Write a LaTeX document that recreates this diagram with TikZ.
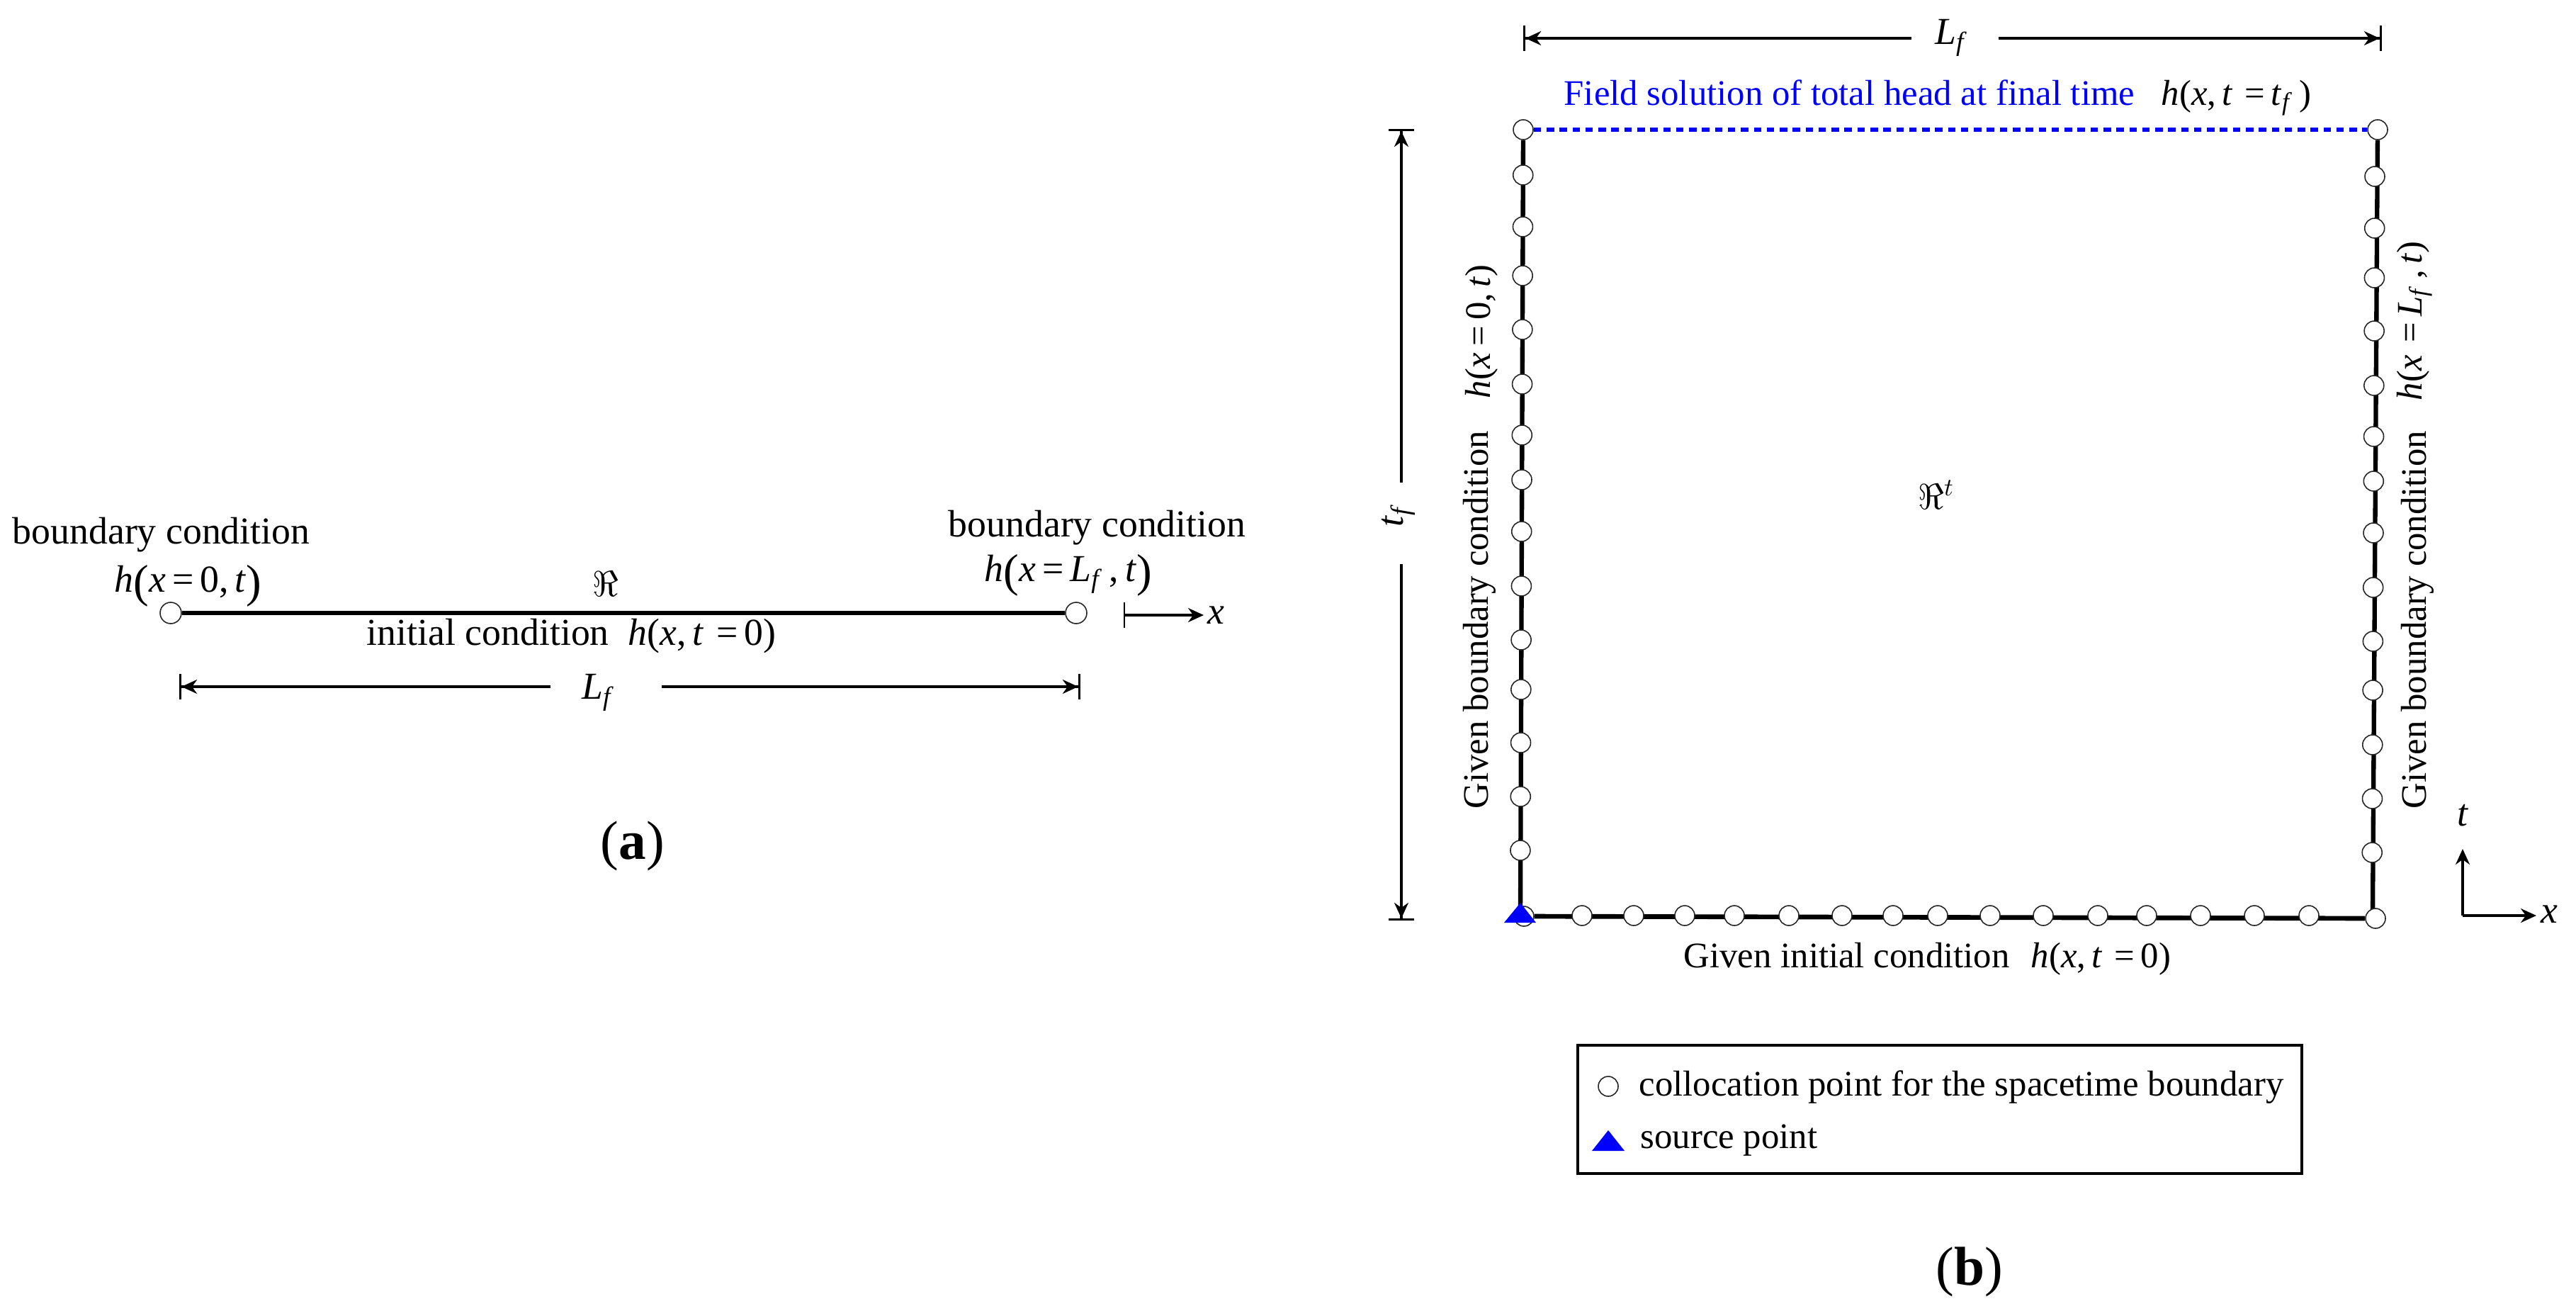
\documentclass[tikz,border=0pt]{standalone}
\usepackage{fontspec}
\setmainfont{Liberation Serif}
\usetikzlibrary{arrows.meta, positioning}
\newcommand{\vi}[1]{\textit{#1}}
\newcommand{\subf}{\textsubscript{\textit{f}}}
\newcommand{\tp}[1]{\raisebox{-.14em}{\fontsize{18.5}{19}\selectfont #1}}

\begin{document}
\begin{tikzpicture}[
    y=-1cm,
    colpt/.style={circle, draw=black!85, fill=white, line width=0.45pt, inner sep=0pt, minimum size=0.28cm},
    endpt/.style={colpt, minimum size=0.3cm},
    wall/.style={line width=1.8pt},
    arrow/.style={-{Stealth[length=2.2mm, width=2mm]}, line width=0.9pt},
    dimend/.style={-{Stealth[length=2.2mm, width=2mm] Bar[width=3.6mm, line width=0.9pt]}, line width=0.9pt},
    dimgap/.style={inner sep=0pt, text height=0.34cm, text depth=0pt},
    texta/.style={inner sep=0pt, font=\fontsize{15.3}{18}\selectfont},
    textb/.style={inner sep=0pt, font=\fontsize{14.45}{17}\selectfont},
    tag/.style={inner sep=0pt, font=\fontsize{22}{26}\selectfont}
]
    \useasboundingbox (0,0) rectangle (36.36,18.50);

    % Panel (a)
    \node[endpt] (aleft) at (2.41,8.65) {};
    \node[endpt] (aright) at (15.19,8.65) {};
    \draw[line width=1.8pt] (aleft) -- (aright);
    \node[texta, anchor=base west] (bcleft) at (0.17,7.67) {boundary condition};
    \node[texta, anchor=base west] (hleft) at (1.61,8.35) {\vi{h}\tp{(}\vi{x}\,=\,0,\,\vi{t}\tp{)}};
    \node[texta, anchor=base west] (bcright) at (13.38,7.57) {boundary condition};
    \node[texta, anchor=base west] (hright) at (13.89,8.20) {\vi{h}\tp{(}\vi{x}\,=\,\vi{L}\subf\,,\,\vi{t}\tp{)}};
    \node[texta, anchor=base] (rega) at (8.55,8.41) {$\Re$};
    \node[texta, anchor=base west] (ica) at (5.17,9.10) {initial condition};
    \node[texta, anchor=base west] (hica) at (8.86,9.10) {\vi{h}(\vi{x},\,\vi{t}\,\,=\,0)};

    % Length of the line
    \node[dimgap, texta, minimum width=1.55cm] (lfa) at (8.555,9.69) {\hspace*{-.22cm}\vi{L}\subf};
    \coordinate (lfaleft) at (2.53,9.69);
    \coordinate (lfaright) at (15.25,9.69);
    \draw[dimend] (lfa) -- (lfaleft);
    \draw[dimend] (lfa) -- (lfaright);

    % Axis of panel (a)
    \coordinate (axao) at (15.86,8.68);
    \node[texta, anchor=base west] (axax) at (17.04,8.80) {\vi{x}};
    \coordinate (axatip) at (16.99,8.68);
    \draw[arrow, {Bar[width=3.6mm, line width=0.7pt]}-{Stealth[length=2.2mm, width=2mm]}] (axao) -- (axatip);
    \node[tag, anchor=base] (taga) at (8.93,12.12) {(\textbf{a})};

    % Panel (b): the spacetime square
    \node[colpt] (TL) at (21.50,1.83) {};
    \node[colpt] (TR) at (33.56,1.83) {};
    \coordinate (wallLb) at (21.46,12.92);
    \coordinate (wallRb) at (33.49,12.92);
    \draw[wall] (TL) -- (wallLb);
    \draw[wall] (TR) -- (wallRb);
    \node[colpt] (BL) at (21.51,12.93) {};
    \node[colpt] (BR) at (33.53,12.96) {};
    \draw[wall, line width=1.9pt] (BL) -- (BR);
    \draw[blue, line width=1.6pt, dash pattern=on 3pt off 2.2pt] (TL) -- (TR);

    % Collocation points
    \foreach \y [count=\i, evaluate=\y as \x using 21.50-(\y-1.83)*0.004] in {2.47,3.20,3.89,4.65,5.42,6.14,6.77,7.50,8.27,9.03,9.73,10.48,11.24,12.00}
        \node[colpt] (left\i) at (\x,\y) {};
    \foreach \y [count=\i, evaluate=\y as \x using 33.52-(\y-2.49)*0.004] in {2.49,3.22,3.92,4.67,5.44,6.16,6.79,7.52,8.29,9.05,9.74,10.51,11.27,12.03}
        \node[colpt] (right\i) at (\x,\y) {};
    \foreach \x [count=\i] in {22.33,23.06,23.78,24.48,25.25,26.00,26.72,27.35,28.09,28.84,29.61,30.30,31.06,31.82,32.59}
        \node[colpt] (bottom\i) at (\x,12.92) {};
    \fill[blue] (21.23,13.02) -- (21.46,12.74) -- (21.68,13.02) -- cycle;

    % Labels of panel (b)
    \node[textb, text=blue, anchor=base west] (field) at (22.07,1.48) {Field solution of total head at final time};
    \node[textb, anchor=base west] (hfield) at (30.50,1.48) {\vi{h}(\vi{x},\,\vi{t}\,\,=\,\vi{t}\subf\,)};
    \node[textb, anchor=base] (regb) at (27.33,7.18) {$\Re^{t}$};
    \node[textb, anchor=base west] (icb) at (23.76,13.65) {Given initial condition};
    \node[textb, anchor=base west] (hicb) at (28.66,13.65) {\vi{h}(\vi{x},\,\vi{t}\,\,=\,0)};
    \node[textb, rotate=90, anchor=base west] (bcl) at (21.00,11.42) {Given boundary condition};
    \node[textb, rotate=90, anchor=base west] (hl) at (21.03,5.63) {\vi{h}(\vi{x}\,=\,0,\,\vi{t})};
    \node[textb, rotate=90, anchor=base west] (bcr) at (34.24,11.42) {Given boundary condition};
    \node[textb, rotate=90, anchor=base west] (hr) at (34.18,5.66) {\vi{h}(\vi{x}\,\,=\,\vi{L}\subf\,,\,\vi{t})};

    % Dimensions of the square
    \node[dimgap, texta, text depth=0.16cm, text height=0.32cm, minimum width=1.21cm] (lfb) at (27.595,0.54) {\hspace*{-.1cm}\vi{L}\subf};
    \coordinate (lfbleft) at (21.50,0.54);
    \coordinate (lfbright) at (33.62,0.54);
    \draw[dimend] (lfb) -- (lfbleft);
    \draw[dimend] (lfb) -- (lfbright);
    \node[dimgap, texta, rotate=90, text height=0.24cm, text depth=0.2cm, minimum width=1.13cm] (tfb) at (19.78,7.385) {\hspace*{.22cm}\vi{t}\subf};
    \coordinate (tftop) at (19.78,1.82);
    \coordinate (tfbot) at (19.78,12.99);
    \draw[dimend] (tfb) -- (tftop);
    \draw[dimend] (tfb) -- (tfbot);

    % Axes of panel (b)
    \coordinate (axbo) at (34.76,12.92);
    \node[texta, anchor=base] (axbt) at (34.76,11.65) {\vi{t}};
    \node[texta, anchor=base west] (axbx) at (35.86,13.02) {\vi{x}};
    \coordinate (axbttip) at (34.76,11.98);
    \coordinate (axbxtip) at (35.80,12.92);
    \draw[arrow] (axbo) -- (axbttip);
    \draw[arrow] (axbo) -- (axbxtip);

    % Legend
    \node[draw, line width=0.9pt, inner sep=0pt, minimum width=10.22cm, minimum height=1.81cm] (legend) at (27.38,15.655) {};
    \node[colpt] (legcirc) at (22.70,15.33) {};
    \node[textb, anchor=base west] (legcol) at (23.13,15.46) {collocation point for the spacetime boundary};
    \fill[blue] (22.47,16.24) -- (22.70,15.95) -- (22.93,16.24) -- cycle;
    \node[textb, anchor=base west] (legsrc) at (23.15,16.20) {source point};
    \node[tag, anchor=base] (tagb) at (27.80,18.13) {(\textbf{b})};
\end{tikzpicture}
\end{document}
